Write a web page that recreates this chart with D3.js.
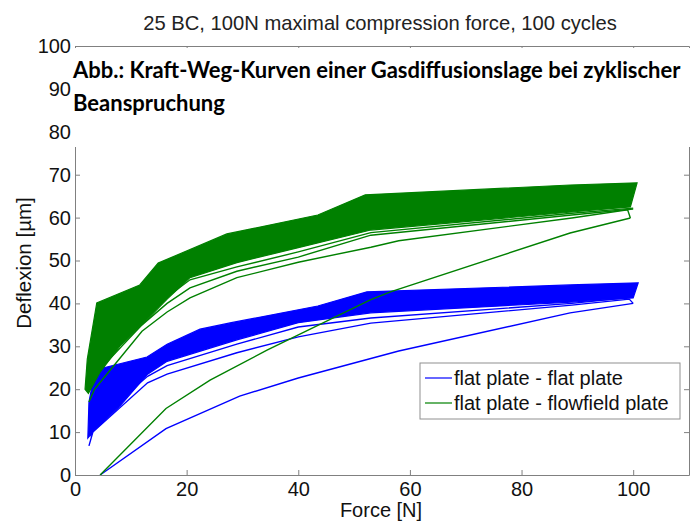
<!DOCTYPE html>
<html>
<head>
<meta charset="utf-8">
<script src="https://cdn.jsdelivr.net/npm/d3@7"></script>
<style>
  body { margin: 0; background: #fff; }
  text { font-family: "Liberation Sans", Arial, sans-serif; }
</style>
</head>
<body>
<div id="container"></div>
<script>
/* CONSTANTS AND GLOBALS */
const width = 694,
  height = 523,
  margin = { top: 46, bottom: 48, left: 75, right: 5 };

/* DATA */
const forceTicks = [0, 20, 40, 60, 80, 100];
const deflexionTicks = [0, 10, 20, 30, 40, 50, 60, 70, 80, 90, 100];
const seriesNames = ["flat plate - flat plate", "flat plate - flowfield plate"];

// flat plate - flat plate  [force N, deflexion um]
const blueFirstLoad = [[4.5, 0], [16.3, 10.8], [29.5, 18.4], [40, 22.6], [58, 28.9], [88.7, 37.8], [100, 40]];
const blueUnload1 = [[2.5, 6.8], [3.2, 10], [13, 21.5], [16.5, 23.5], [29, 28.5], [40, 32.2], [53, 35.4], [89, 39.6], [99.3, 41], [100, 40]];
const blueCycle2 = [[2.8, 9], [3.6, 12.5], [13, 23], [16.5, 25.5], [29, 30.5], [40, 34.5], [53, 36.6], [89, 40], [100, 41.5]];
const blueBandTop = [[2.3, 8.6], [2.5, 17], [3.6, 24.5], [12.9, 27.5], [16.5, 30.5], [22.4, 34], [28, 35.5], [43.5, 39.4], [52.3, 42.7], [88.7, 44.3], [100.9, 44.8], [100, 41.3]];
const blueBandBottom = [[2.3, 8.6], [3.5, 10.5], [8, 16], [13, 23.5], [16.5, 26.5], [29, 31.5], [40, 35.5], [53, 37.8], [89, 40.3], [100, 41.3]];

// flat plate - flowfield plate
const greenFirstLoad = [[4.5, 0], [16.3, 15.5], [24.2, 22.1], [34.4, 29.1], [52.9, 40.8], [56.5, 42.7], [88.7, 56.4], [99.5, 59.9]];
const greenUnload1 = [[2.5, 17], [3.5, 20], [12, 33.5], [16.5, 38], [20.6, 41.3], [29, 46], [40, 49.6], [53, 53.1], [58, 54.6], [89, 59.9], [99, 61.8], [99.5, 59.9]];
const greenCycle2 = [[2.2, 20], [3.3, 23], [12, 35], [16.5, 40], [20.6, 43.6], [29, 47.5], [40, 50.8], [53, 55.9], [89, 60.6], [100, 62]];
const greenCycle3 = [[2.4, 21], [3.5, 26], [12, 36.5], [16.5, 41.5], [20.6, 45.5], [29, 48.5], [40, 52], [53, 56.5], [89, 61], [100, 62.2]];
const greenBandTop = [[1.8, 20], [2.2, 27], [3.9, 40.1], [11.6, 44.3], [14.9, 49.4], [27.2, 56.2], [43.5, 60.6], [52, 65.3], [88.7, 67.6], [100.7, 68.1], [99.5, 62.5]];
const greenBandBottom = [[1.8, 20], [2.4, 19], [4.5, 24], [8, 30], [12, 35], [16.5, 41], [20.6, 46], [29, 49.5], [40, 53], [53, 57.1], [89, 61.3], [99.5, 62.5]];

const blue = "#0000ff", green = "#008000";

/* SCALES */
const xScale = d3.scaleLinear()
  .domain([0, 110])
  .range([margin.left, width - margin.right]);

const yScale = d3.scaleLinear()
  .domain([0, 100])
  .range([height - margin.bottom, margin.top]);

const line = d3.line()
  .x(d => xScale(d[0]))
  .y(d => yScale(d[1]));

/* HTML ELEMENTS */
const svg = d3.select("#container")
  .append("svg")
  .attr("width", width)
  .attr("height", height);

// each series: dense cycles drawn as a filled region between edges, then the single early cycles
const series = [
  { color: blue, top: blueBandTop, bottom: blueBandBottom, curves: [blueFirstLoad, blueUnload1, blueCycle2] },
  { color: green, top: greenBandTop, bottom: greenBandBottom, curves: [greenFirstLoad, greenUnload1, greenCycle2, greenCycle3] }
];

const groups = svg.selectAll(".series")
  .data(series)
  .join("g")
  .attr("class", "series");

groups.append("path")
  .attr("class", "band")
  .attr("d", d => line(d.top.concat(d.bottom.slice().reverse())) + "Z")
  .attr("fill", d => d.color)
  .attr("stroke", d => d.color)
  .attr("stroke-width", 1.2);

groups.selectAll(".curve")
  .data(d => d.curves.map(pts => ({ pts, color: d.color })))
  .join("path")
  .attr("class", "curve")
  .attr("d", d => line(d.pts))
  .attr("fill", "none")
  .attr("stroke", d => d.color)
  .attr("stroke-width", 1.4);

// axes, MATLAB box style with inward ticks
const axisColor = "#808080";
const x0 = height - margin.bottom, y0 = margin.left;

svg.append("g")
  .attr("transform", `translate(0,${x0})`)
  .call(d3.axisBottom(xScale).tickValues(forceTicks).tickSize(-5).tickPadding(7).tickSizeOuter(0));
svg.append("g")
  .attr("transform", `translate(0,${margin.top})`)
  .call(d3.axisTop(xScale).tickValues(forceTicks).tickSize(-5).tickFormat("").tickSizeOuter(0));
svg.append("g")
  .attr("transform", `translate(${y0},0)`)
  .call(d3.axisLeft(yScale).tickValues(deflexionTicks).tickSize(-5).tickPadding(4).tickSizeOuter(0));
svg.append("g")
  .attr("transform", `translate(${width - margin.right},0)`)
  .call(d3.axisRight(yScale).tickValues(deflexionTicks).tickSize(-5).tickFormat("").tickSizeOuter(0));

svg.selectAll(".domain, .tick line")
  .attr("stroke", axisColor)
  .attr("stroke-width", 1);
svg.selectAll(".tick text")
  .attr("fill", "#111")
  .style("font-size", "20px");

// titles
svg.append("text")
  .attr("x", 380)
  .attr("y", 30)
  .attr("text-anchor", "middle")
  .attr("fill", "#222")
  .style("font-size", "20.2px")
  .text("25 BC, 100N maximal compression force, 100 cycles");

svg.append("text")
  .attr("x", 381)
  .attr("y", 517)
  .attr("text-anchor", "middle")
  .attr("fill", "#111")
  .style("font-size", "20px")
  .text("Force [N]");

svg.append("text")
  .attr("transform", "translate(31,263) rotate(-90)")
  .attr("text-anchor", "middle")
  .attr("fill", "#111")
  .style("font-size", "20.5px")
  .text("Deflexion [µm]");

// legend
const legend = svg.append("g").attr("transform", "translate(420,363)");
legend.append("rect")
  .attr("width", 260)
  .attr("height", 56)
  .attr("fill", "#fff")
  .attr("stroke", "#909090")
  .attr("stroke-width", 1);
const rows = legend.selectAll(".row")
  .data(seriesNames)
  .join("g")
  .attr("class", "row")
  .attr("transform", (d, i) => `translate(0,${15 + i * 25})`);
rows.append("line")
  .attr("x1", 5).attr("x2", 32)
  .attr("stroke", (d, i) => i === 0 ? blue : green)
  .attr("stroke-width", 1.2);
rows.append("text")
  .attr("x", 34)
  .attr("y", 7)
  .attr("fill", "#111")
  .style("font-size", "20px")
  .text(d => d);

// caption pasted over the top of the figure
const cap = svg.append("g");
cap.append("rect")
  .attr("x", 72).attr("y", 48)
  .attr("width", width - 72).attr("height", 99)
  .attr("fill", "#fff");
cap.selectAll("text")
  .data(["Abb.: Kraft-Weg-Kurven einer Gasdiffusionslage bei zyklischer", "Beanspruchung"])
  .join("text")
  .attr("x", 73)
  .attr("y", (d, i) => 78 + i * 33)
  .attr("fill", "#000")
  .style("font-family", "Lato, 'Open Sans', sans-serif")
  .style("font-weight", "bold")
  .style("font-size", "22px")
  .text(d => d);
</script>
</body>
</html>
